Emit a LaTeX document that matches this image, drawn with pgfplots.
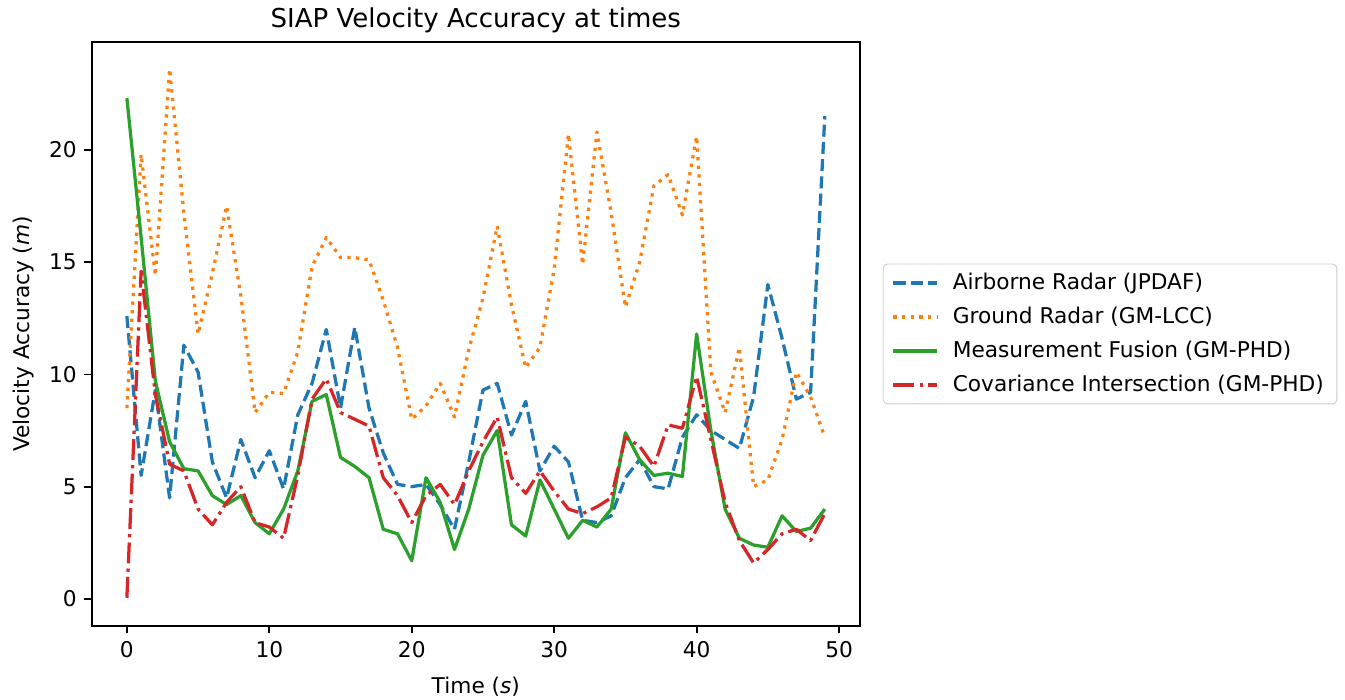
\documentclass[border=0pt]{standalone}
\usepackage{fontspec}
\setmainfont{DejaVu Sans}
\usepackage{pgfplots}
\pgfplotsset{compat=1.18}
\definecolor{c0}{HTML}{1F77B4}
\definecolor{c1}{HTML}{FF7F0E}
\definecolor{c2}{HTML}{2CA02C}
\definecolor{c3}{HTML}{D62728}
\begin{document}
\fontsize{10}{12}\selectfont
\begin{tikzpicture}
\path[use as bounding box] (-42.4pt,-34.1pt) rectangle (577.6pt,288.5pt);
\begin{axis}[
  at={(0pt,0pt)}, anchor=south west,
  scale only axis, width=353.9pt, height=269.1pt,
  xmin=-2.45, xmax=51.45, ymin=-1.2, ymax=24.8,
  xtick={0,10,...,50}, ytick={0,5,...,20},
  tick pos=left, tick align=outside, major tick length=3.5pt,
  every tick/.style={black, line width=0.8pt},
  axis line style={line width=0.8pt},
  /pgf/number format/assume math mode=true,
  ticklabel style={font=\fontsize{10}{12}\selectfont},
  xlabel={Time (\textit{s})}, ylabel={Velocity Accuracy (\textit{m})},
  label style={font=\fontsize{10}{12}\selectfont},
  xlabel style={yshift=-2.3pt},
  title={SIAP Velocity Accuracy at times},
  title style={font=\fontsize{12}{14}\selectfont, at={(0.5,1)}, anchor=south, yshift=-2pt, inner sep=0pt},
  legend style={at={(1.03,0.5)}, anchor=west, draw=black!20, rounded corners=2pt,
    font=\fontsize{10}{12}\selectfont, cells={anchor=west}, row sep=2.55pt,
    inner xsep=4pt, inner ysep=2.2pt},
  legend image code/.code={\draw[#1] (0pt,0pt) -- (20pt,0pt); \path (24.6pt,0pt);},
  every axis plot/.append style={line width=1.5pt, line join=round},
]
\addplot[c0, dash pattern=on 5.55pt off 2.4pt] coordinates {
(0,12.6)(1,5.5)(2,9.3)(3,4.5)(4,11.3)(5,10.1)(6,6.1)(7,4.5)(8,7.1)(9,5.4)
(10,6.6)(11,4.9)(12,8.2)(13,9.6)(14,12.0)(15,8.5)(16,12.1)(17,8.5)(18,6.5)(19,5.1)
(20,5.0)(21,5.1)(22,4.2)(23,3.1)(24,6.1)(25,9.3)(26,9.6)(27,7.3)(28,8.8)(29,5.7)
(30,6.8)(31,6.1)(32,3.5)(33,3.4)(34,3.7)(35,5.4)(36,6.2)(37,5.0)(38,4.9)(39,7.2)
(40,8.2)(41,7.5)(42,7.1)(43,6.7)(44,9.0)(45,14.0)(46,11.6)(47,8.9)(48,9.2)(49,21.5)
};
\addlegendentry{Airborne Radar (JPDAF)}
\addplot[c1, dash pattern=on 1.5pt off 2.475pt] coordinates {
(0,8.5)(1,19.8)(2,14.4)(3,23.6)(4,17.2)(5,11.8)(6,14.5)(7,17.5)(8,13.5)(9,8.3)
(10,9.2)(11,9.15)(12,11.0)(13,14.8)(14,16.1)(15,15.2)(16,15.2)(17,15.1)(18,13.3)(19,11.2)
(20,8.0)(21,8.6)(22,9.6)(23,8.1)(24,11.1)(25,13.4)(26,16.6)(27,13.1)(28,10.3)(29,11.2)
(30,14.7)(31,20.7)(32,14.9)(33,20.8)(34,17.2)(35,13.0)(36,15.0)(37,18.4)(38,18.9)(39,17.1)
(40,20.6)(41,10.1)(42,8.3)(43,11.2)(44,5.0)(45,5.3)(46,7.1)(47,10.1)(48,9.0)(49,7.2)
};
\addlegendentry{Ground Radar (GM-LCC)}
\addplot[c2] coordinates {
(0,22.3)(1,16.1)(2,9.7)(3,7.0)(4,5.8)(5,5.7)(6,4.6)(7,4.2)(8,4.6)(9,3.4)
(10,2.9)(11,4.0)(12,5.7)(13,8.8)(14,9.1)(15,6.3)(16,5.9)(17,5.4)(18,3.1)(19,2.9)
(20,1.7)(21,5.4)(22,4.3)(23,2.2)(24,4.0)(25,6.4)(26,7.5)(27,3.3)(28,2.8)(29,5.3)
(30,4.0)(31,2.7)(32,3.5)(33,3.2)(34,4.0)(35,7.4)(36,6.2)(37,5.5)(38,5.6)(39,5.45)
(40,11.8)(41,7.5)(42,4.0)(43,2.7)(44,2.4)(45,2.3)(46,3.7)(47,3.0)(48,3.15)(49,4.0)
};
\addlegendentry{Measurement Fusion (GM-PHD)}
\addplot[c3, dash pattern=on 9.6pt off 2.4pt on 1.5pt off 2.4pt] coordinates {
(0,0.05)(1,14.6)(2,9.1)(3,6.0)(4,5.7)(5,4.0)(6,3.3)(7,4.3)(8,5.0)(9,3.4)
(10,3.2)(11,2.7)(12,5.5)(13,8.9)(14,9.8)(15,8.3)(16,8.0)(17,7.7)(18,5.4)(19,4.6)
(20,3.4)(21,4.6)(22,5.1)(23,4.2)(24,5.7)(25,7.0)(26,8.1)(27,5.4)(28,4.7)(29,5.7)
(30,4.8)(31,4.0)(32,3.8)(33,4.1)(34,4.5)(35,7.2)(36,6.8)(37,5.9)(38,7.75)(39,7.6)
(40,9.9)(41,7.1)(42,4.3)(43,2.6)(44,1.6)(45,2.2)(46,2.9)(47,3.1)(48,2.6)(49,3.8)
};
\addlegendentry{Covariance Intersection (GM-PHD)}
\end{axis}
\end{tikzpicture}
\end{document}
